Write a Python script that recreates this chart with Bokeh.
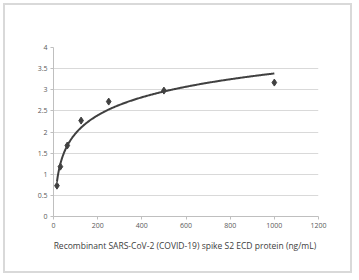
import numpy as np
from bokeh.plotting import figure
from bokeh.models import FixedTicker, Label, Range1d
from bokeh.embed import file_html
from bokeh.resources import INLINE

# data
conc = [15.625, 31.25, 62.5, 125, 250, 500, 1000]
od = [0.73, 1.18, 1.68, 2.27, 2.72, 2.98, 3.17]
x_ticks = [0, 200, 400, 600, 800, 1000, 1200]
y_ticks = [0, 0.5, 1, 1.5, 2, 2.5, 3, 3.5, 4]
y_tick_labels = ["0", "0.5", "1", "1.5", "2", "2.5", "3", "3.5", "4"]
x_title = "Recombinant SARS-CoV-2 (COVID-19) spike S2  ECD protein (ng/mL)"

# logarithmic trend line fitted to the data
slope, intercept = np.polyfit(np.log(conc), od, 1)
fx = np.linspace(min(conc), max(conc), 300)
fy = slope * np.log(fx) + intercept

FONT = "Open Sans"
p = figure(width=349, height=270, output_backend="svg", toolbar_location=None,
           x_range=Range1d(0, 1200), y_range=Range1d(0, 4),
           min_border_left=48, min_border_right=36, min_border_top=42, min_border_bottom=59,
           styles={"border": "2px solid #d9d9d9", "margin-left": "3px", "margin-top": "3px"})
p.outline_line_color = None
p.background_fill_color = "white"
p.border_fill_color = None

p.xgrid.grid_line_color = None
p.ygrid.grid_line_color = "#d9d9d9"
p.ygrid.grid_line_width = 1
p.xaxis.ticker = FixedTicker(ticks=x_ticks)
p.yaxis.ticker = FixedTicker(ticks=y_ticks)
p.yaxis.major_label_overrides = {t: l for t, l in zip(y_ticks, y_tick_labels)}

for ax in (p.xaxis, p.yaxis):
    ax.axis_line_color = "#bfbfbf"
    ax.major_tick_line_color = "#bfbfbf"
    ax.minor_tick_line_color = None
    ax.major_tick_in = 0
    ax.major_tick_out = 3
    ax.major_label_text_font = FONT
    ax.major_label_text_font_size = "7px"
    ax.major_label_text_color = "#595959"
    ax.major_label_standoff = 3

p.xaxis.axis_label = x_title
p.xaxis.axis_label_text_font = FONT
p.xaxis.axis_label_text_font_size = "8.5px"
p.xaxis.axis_label_text_font_style = "normal"
p.xaxis.axis_label_text_color = "#404040"
p.xaxis.axis_label_standoff = 9

p.line(fx, fy, line_color="#404040", line_width=2)
p.scatter(conc, od, marker="diamond", size=7, fill_color="#404040", line_color="#404040")

p.add_layout(Label(x=-32.5, y=83, x_units="screen", y_units="screen", text="OD",
                   angle=np.pi / 2, text_align="center", text_baseline="middle",
                   text_font=FONT, text_font_size="8px", text_color="#404040"))
p.add_layout(Label(x=-31, y=96.5, x_units="screen", y_units="screen", text="450",
                   angle=np.pi / 2, text_align="center", text_baseline="middle",
                   text_font=FONT, text_font_size="5px", text_color="#404040"))

open("out.html", "w").write(file_html(p, INLINE))
